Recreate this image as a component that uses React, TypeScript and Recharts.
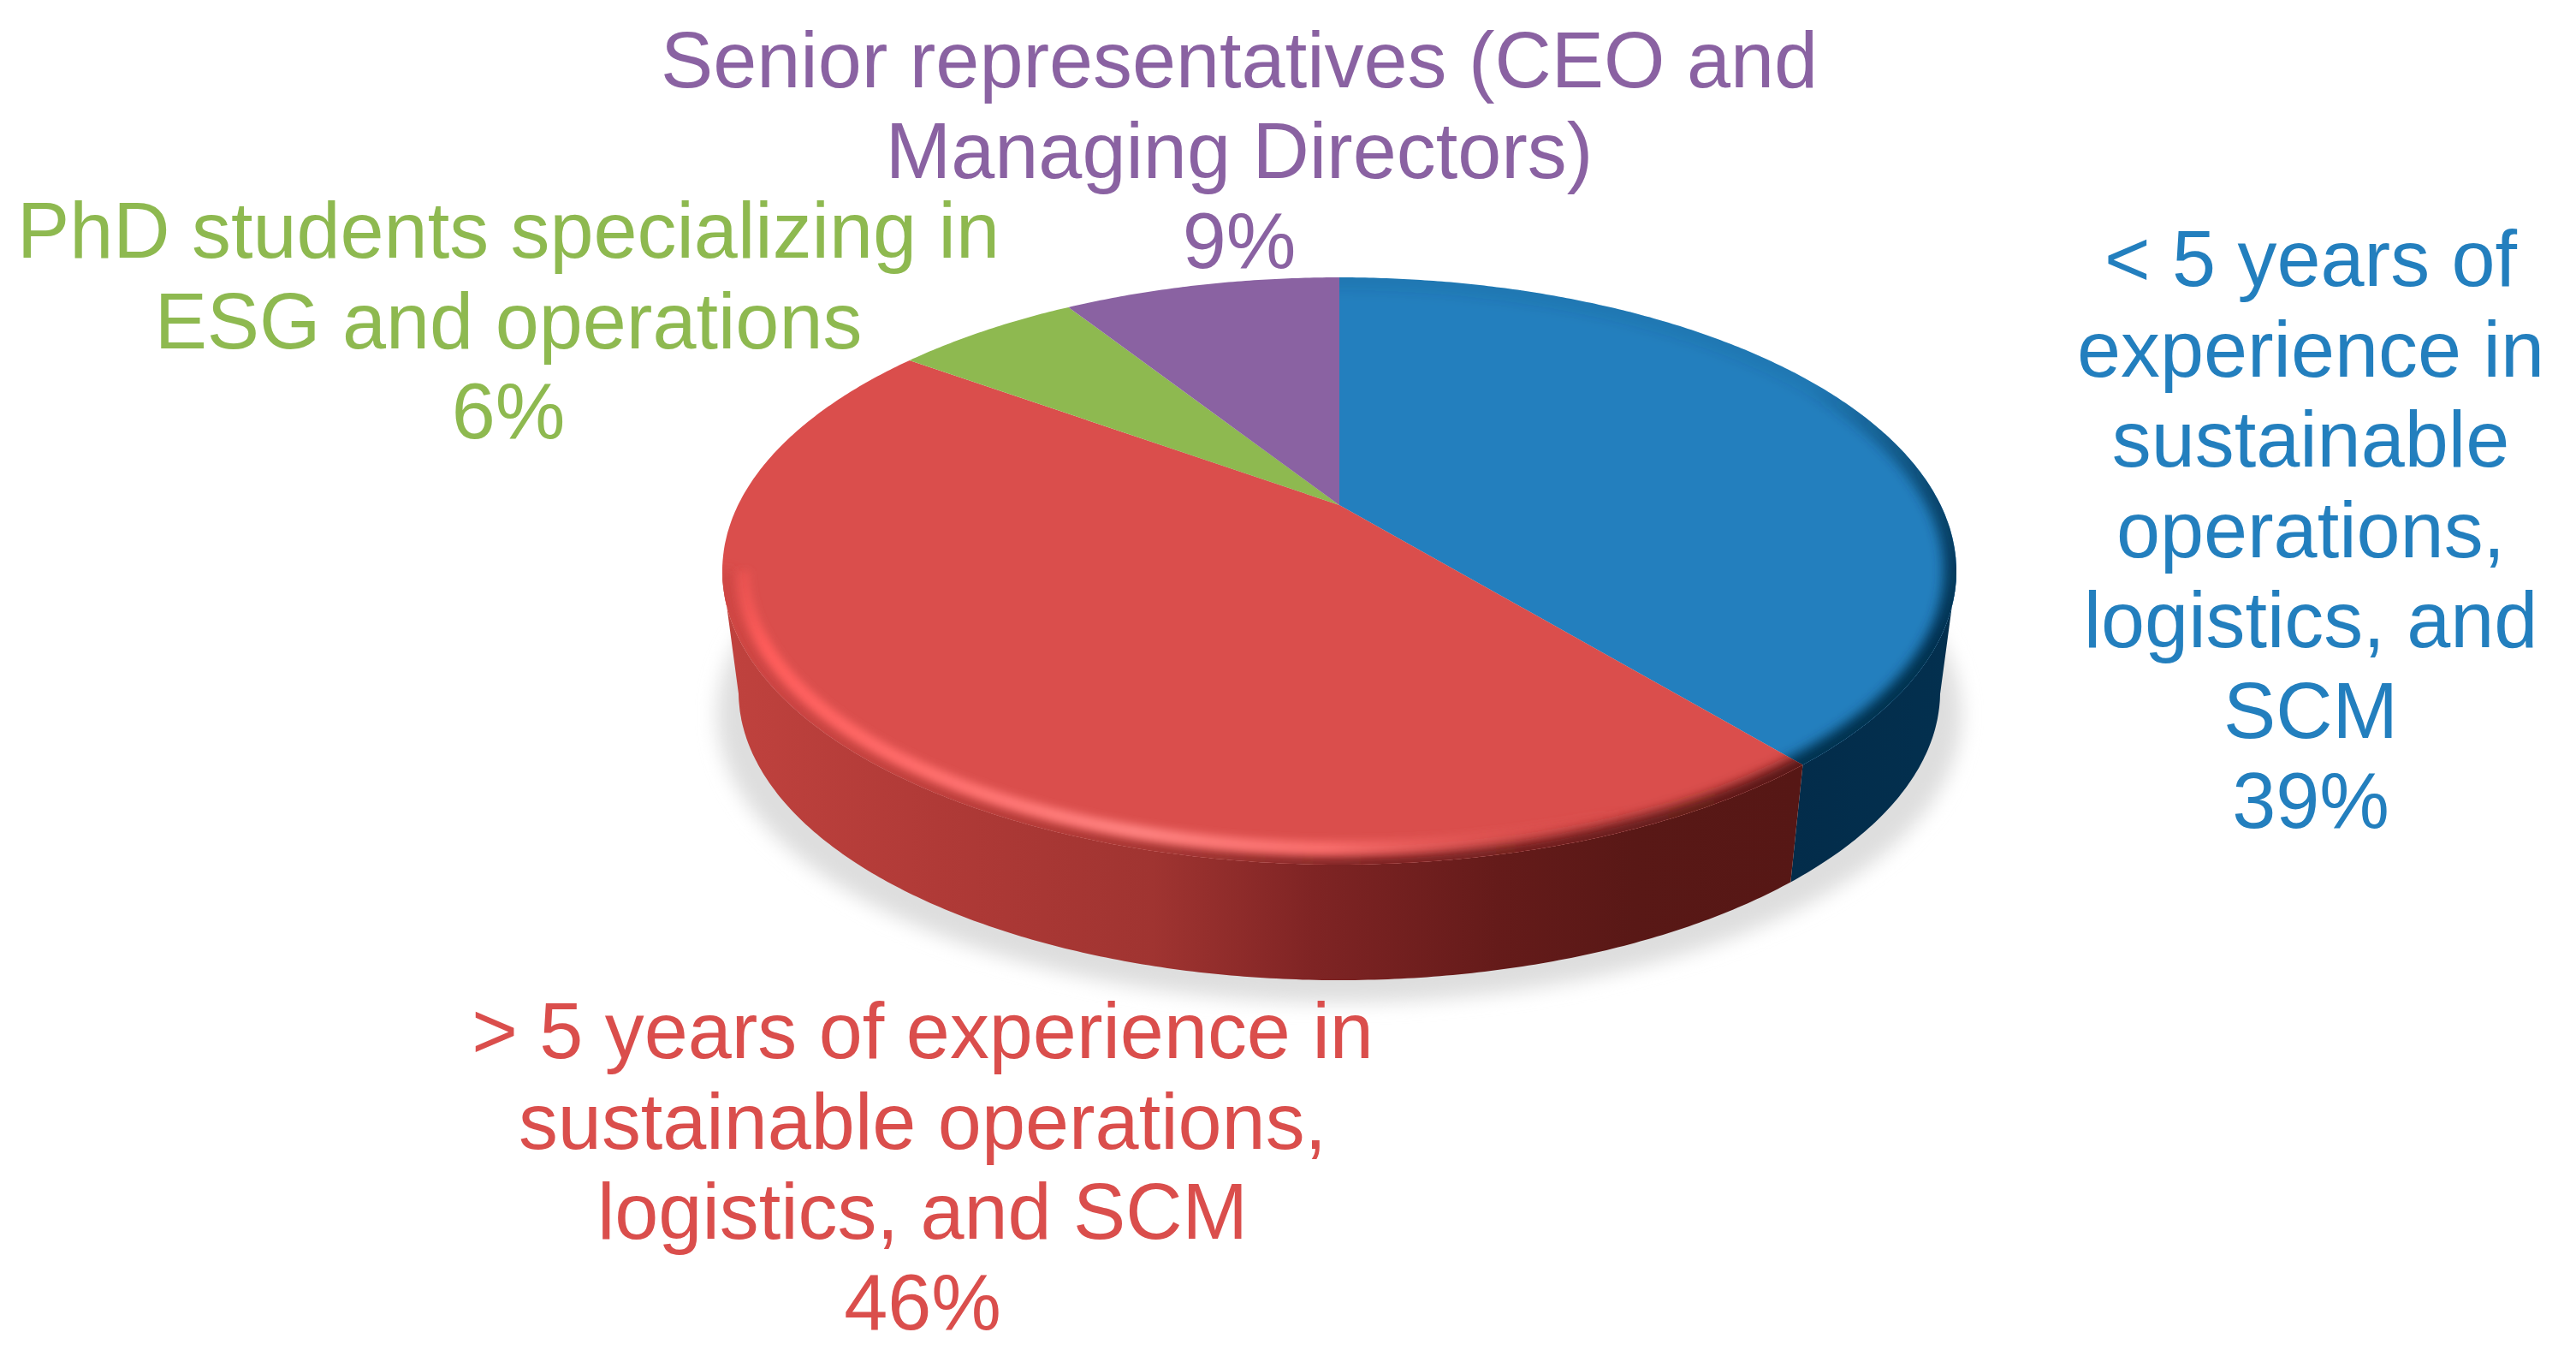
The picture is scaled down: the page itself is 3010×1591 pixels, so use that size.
// App.tsx
// Perspective "3D" pie: Recharts computes the sector angles, the custom shapes
// project them on to a tilted disc with a side wall, rim light and soft shadow.
import React from "react";
import { PieChart, Pie } from "recharts";

const categories = [
  "< 5 years of experience in sustainable operations, logistics, and SCM",
  "> 5 years of experience in sustainable operations, logistics, and SCM",
  "PhD students specializing in ESG and operations",
  "Senior representatives (CEO and Managing Directors)",
];
const shares = [39, 46, 6, 9];
const labelLines = [
  ["< 5 years of", "experience in", "sustainable", "operations,", "logistics, and", "SCM"],
  ["> 5 years of experience in", "sustainable operations,", "logistics, and SCM"],
  ["PhD students specializing in", "ESG and operations"],
  ["Senior representatives (CEO and", "Managing Directors)"],
];
const data = categories.map((name, i) => ({ name, value: shares[i] }));

// styling
const FACE = ["#237fbe", "#da4e4c", "#8eb950", "#8a62a2"];
const LABEL_X = [2700, 1078, 594, 1448];
const LABEL_Y = [334, 1236, 301, 102];
const LINE_H = 105.5;
const FONT = "'Liberation Sans', Arial, sans-serif";

// projection of the disc
const CX = 1565;
const CY = 590;
const R = 702.6;
const C = 0.2245; // perspective strength
const B = 0.4635; // vertical squash
const RX = R / Math.sqrt(1 - C * C);
const UP = (R * B) / (1 + C);
const DOWN = (R * B) / (1 - C);
const RY = (UP + DOWN) / 2;
const EY = CY + (DOWN - UP) / 2;
// bottom edge of the wall
const BOT_RX = 702;
const BOT_RY = 337;
const BOT_Y = 808;

const project = (deg: number) => {
  const a = (deg * Math.PI) / 180;
  const d = 1 + C * Math.sin(a);
  return {
    x: CX + (R * Math.cos(a)) / d,
    y: CY - (R * B * Math.sin(a)) / d,
  };
};

const sampleArc = (start: number, end: number) => {
  const n = Math.max(2, Math.ceil(Math.abs(end - start) * 2));
  const out = [];
  for (let i = 0; i <= n; i++) out.push(project(start + ((end - start) * i) / n));
  return out;
};

const toBottom = (p: { x: number; y: number }) => {
  const t = Math.atan2((p.y - EY) / RY, (p.x - CX) / RX);
  return { x: CX + BOT_RX * Math.cos(t), y: BOT_Y + BOT_RY * Math.sin(t) };
};

const pathOf = (pts: { x: number; y: number }[]) =>
  pts.map((p, i) => `${i ? "L" : "M"}${p.x.toFixed(1)} ${p.y.toFixed(1)}`).join("");

const lowerHalf = (inset: number, insetY: number) =>
  `M${CX + RX - inset} ${EY}A${RX - inset} ${RY - insetY} 0 0 1 ${CX - RX + inset} ${EY}`;

const WallShape = (props: any) => {
  const { startAngle, endAngle, index } = props;
  const front = sampleArc(startAngle, endAngle).filter((p) => p.y >= EY);
  const wall = front.length
    ? pathOf([...front, ...front.map(toBottom).reverse()]) + "Z"
    : "";
  return (
    <g>
      {index === 0 && (
        <ellipse cx={CX} cy={835} rx={727} ry={336} fill="#dedede" filter="url(#softShadow)" />
      )}
      {wall && <path d={wall} fill={`url(#wall${index})`} />}
    </g>
  );
};

const FaceShape = (props: any) => {
  const { startAngle, endAngle, index } = props;
  const pts = sampleArc(startAngle, endAngle);
  const d = `M${CX} ${CY}` + pathOf(pts).replace("M", "L") + "Z";
  return (
    <g>
      <clipPath id={`faceClip${index}`}>
        <path d={d} />
      </clipPath>
      <path d={d} fill={FACE[index]} />
      {index === 0 && (
        <g clipPath={`url(#faceClip${index})`}>
          <ellipse
            cx={CX}
            cy={EY}
            rx={RX}
            ry={RY}
            fill="none"
            stroke="url(#blueRim)"
            strokeWidth={30}
            filter="url(#rimBlur)"
          />
        </g>
      )}
      {index === 1 && (
        <g clipPath={`url(#faceClip${index})`}>
          <path
            d={lowerHalf(0, 0)}
            fill="none"
            stroke="url(#redEdge)"
            strokeWidth={26}
            filter="url(#rimBlur)"
          />
          <path
            d={lowerHalf(24, 19)}
            fill="none"
            stroke="url(#redGlow)"
            strokeWidth={16}
            filter="url(#glowBlur)"
          />
        </g>
      )}
    </g>
  );
};

const renderLabel = (props: any) => {
  const i = props.index;
  const lines = [...labelLines[i], `${shares[i]}%`];
  return (
    <text
      key={i}
      x={LABEL_X[i]}
      y={LABEL_Y[i]}
      textAnchor="middle"
      fill={FACE[i]}
      fontFamily={FONT}
      fontSize={91.8}
    >
      {lines.map((line, j) => (
        <tspan key={j} x={LABEL_X[i]} y={LABEL_Y[i] + j * LINE_H}>
          {line}
        </tspan>
      ))}
    </text>
  );
};

export default function App() {
  return (
    <div style={{ position: "absolute", left: 0, top: 0, width: 3010, height: 1591, background: "#fff" }}>
      <PieChart width={3010} height={1591} margin={{ top: 0, right: 0, bottom: 0, left: 0 }}>
        <defs>
          <filter id="softShadow" x="-10%" y="-10%" width="120%" height="120%">
            <feGaussianBlur stdDeviation="11" />
          </filter>
          <filter id="rimBlur" x="-5%" y="-5%" width="110%" height="110%">
            <feGaussianBlur stdDeviation="7" />
          </filter>
          <filter id="glowBlur" x="-5%" y="-5%" width="110%" height="110%">
            <feGaussianBlur stdDeviation="5" />
          </filter>
          <linearGradient id="wall0" gradientUnits="userSpaceOnUse" x1="2090" y1="0" x2="2290" y2="0">
            <stop offset="0" stopColor="#032c4a" />
            <stop offset="1" stopColor="#03304f" />
          </linearGradient>
          <linearGradient id="wall1" gradientUnits="userSpaceOnUse" x1="843" y1="0" x2="2100" y2="0">
            <stop offset="0" stopColor="#c0423e" />
            <stop offset="0.2" stopColor="#b03a37" />
            <stop offset="0.4" stopColor="#a03431" />
            <stop offset="0.55" stopColor="#7f2424" />
            <stop offset="0.72" stopColor="#651b1a" />
            <stop offset="0.85" stopColor="#591816" />
            <stop offset="1" stopColor="#561715" />
          </linearGradient>
          <linearGradient id="blueRim" gradientUnits="userSpaceOnUse" x1="2120" y1="450" x2="2260" y2="760">
            <stop offset="0" stopColor="#04304f" stopOpacity="0.1" />
            <stop offset="0.5" stopColor="#04304f" stopOpacity="0.7" />
            <stop offset="1" stopColor="#04304f" stopOpacity="1" />
          </linearGradient>
          <linearGradient id="redEdge" gradientUnits="userSpaceOnUse" x1="843" y1="0" x2="2100" y2="0">
            <stop offset="0" stopColor="#c8413e" stopOpacity="0.6" />
            <stop offset="0.4" stopColor="#a53633" stopOpacity="1" />
            <stop offset="0.6" stopColor="#7f2424" stopOpacity="1" />
            <stop offset="1" stopColor="#561715" stopOpacity="1" />
          </linearGradient>
          <linearGradient id="redGlow" gradientUnits="userSpaceOnUse" x1="860" y1="640" x2="1900" y2="952">
            <stop offset="0" stopColor="#ff5a58" stopOpacity="0.2" />
            <stop offset="0.06" stopColor="#ff5c5a" stopOpacity="1" />
            <stop offset="0.5" stopColor="#ff8280" stopOpacity="1" />
            <stop offset="0.7" stopColor="#ff7270" stopOpacity="0.9" />
            <stop offset="1" stopColor="#e25452" stopOpacity="0" />
          </linearGradient>
        </defs>
        <Pie
          data={data}
          dataKey="value"
          nameKey="name"
          cx={CX}
          cy={CY}
          outerRadius={R}
          startAngle={90}
          endAngle={-270}
          stroke="none"
          isAnimationActive={false}
          shape={WallShape}
          label={false}
          labelLine={false}
        />
        <Pie
          data={data}
          dataKey="value"
          nameKey="name"
          cx={CX}
          cy={CY}
          outerRadius={R}
          startAngle={90}
          endAngle={-270}
          stroke="none"
          isAnimationActive={false}
          shape={FaceShape}
          label={renderLabel}
          labelLine={false}
        />
      </PieChart>
    </div>
  );
}
